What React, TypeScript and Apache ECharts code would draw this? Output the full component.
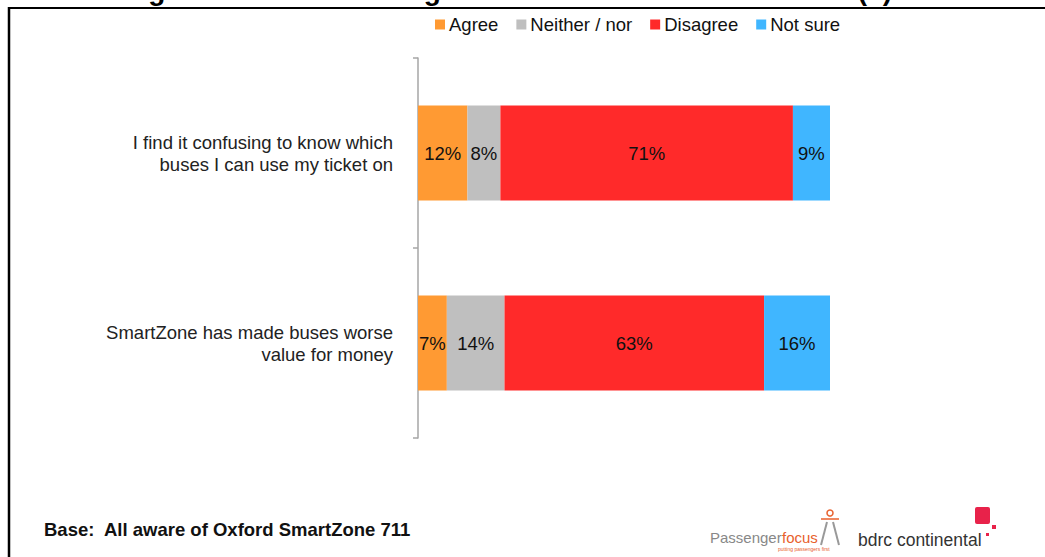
import React, { useEffect, useRef } from "react";
import * as echarts from "echarts";

const categories = [
  "I find it confusing to know which\nbuses I can use my ticket on",
  "SmartZone has made buses worse\nvalue for money",
];
const seriesNames = ["Agree", "Neither / nor", "Disagree", "Not sure"];
const agree = [12, 7];
const neither = [8, 14];
const disagree = [71, 63];
const notSure = [9, 16];
const colors = ["#FF9A33", "#BFBFBF", "#FF2A2A", "#40B6FF"];
const titleText = "Passenger attitudes to changes to the bus service in Oxford (3)";
const baseText = "Base:  All aware of Oxford SmartZone 711";

export default function App() {
  const ref = useRef<HTMLDivElement>(null);
  useEffect(() => {
    if (!ref.current) return;
    const chart = echarts.init(ref.current, null, { renderer: "svg" });
    const values = [agree, neither, disagree, notSure];
    const font = "Liberation Sans, Arial, sans-serif";
    chart.setOption({
      animation: false,
      textStyle: { fontFamily: font },
      legend: {
        top: 10,
        left: 430,
        itemWidth: 10,
        itemHeight: 10,
        itemGap: 18,
        icon: "rect",
        textStyle: { fontSize: 18.5, color: "#111", padding: [0, 0, 0, -1] },
        data: seriesNames,
      },
      grid: { left: 418, right: 215, top: 58, bottom: 119 },
      xAxis: { type: "value", min: 0, max: 100, show: false },
      yAxis: {
        type: "category",
        inverse: true,
        data: categories,
        axisLine: { lineStyle: { color: "#A6A6A6", width: 1.5 } },
        axisTick: { show: true, length: 5, lineStyle: { color: "#A6A6A6", width: 1.5 } },
        axisLabel: {
          fontSize: 18.5,
          color: "#222",
          margin: 25,
          lineHeight: 22,
          align: "right",
          padding: [3, 0, 0, 0],
        },
      },
      series: seriesNames.map((name, i) => ({
        name,
        type: "bar",
        stack: "total",
        barWidth: "50%",
        itemStyle: { color: colors[i] },
        label: {
          show: true,
          position: "inside",
          formatter: "{c}%",
          fontSize: 18.5,
          color: "#111",
        },
        data: values[i],
      })),
      graphic: [
        {
          type: "text",
          x: 892,
          y: -10,
          style: {
            text: titleText,
            font: "bold 28px Liberation Sans, Arial, sans-serif",
            fill: "#000",
            textAlign: "right",
            textVerticalAlign: "middle",
          },
        },
        { type: "line", shape: { x1: 8, y1: 8, x2: 1045, y2: 8 }, style: { stroke: "#000", lineWidth: 2 } },
        { type: "line", shape: { x1: 9, y1: 7, x2: 9, y2: 557 }, style: { stroke: "#000", lineWidth: 2.5 } },
        {
          type: "text",
          x: 44,
          y: 529,
          style: {
            text: baseText,
            font: "bold 18.5px Liberation Sans, Arial, sans-serif",
            fill: "#111",
            textVerticalAlign: "middle",
          },
        },
        {
          type: "text",
          x: 710,
          y: 537,
          style: {
            text: "Passenger",
            font: "15px Liberation Sans, Arial, sans-serif",
            fill: "#888",
            textVerticalAlign: "middle",
          },
        },
        {
          type: "text",
          x: 782,
          y: 537,
          style: {
            text: "focus",
            font: "15px Liberation Sans, Arial, sans-serif",
            fill: "#E8602C",
            textVerticalAlign: "middle",
          },
        },
        {
          type: "text",
          x: 778,
          y: 549,
          style: {
            text: "putting passengers first",
            font: "5px Liberation Sans, Arial, sans-serif",
            fill: "#E8602C",
            textVerticalAlign: "middle",
          },
        },
        { type: "circle", shape: { cx: 830, cy: 513, r: 3 }, style: { fill: "none", stroke: "#E8602C", lineWidth: 1.5 } },
        { type: "line", shape: { x1: 821, y1: 519, x2: 839, y2: 519 }, style: { stroke: "#E8602C", lineWidth: 1.5 } },
        { type: "line", shape: { x1: 827, y1: 522, x2: 821, y2: 545 }, style: { stroke: "#999", lineWidth: 2 } },
        { type: "line", shape: { x1: 833, y1: 522, x2: 839, y2: 545 }, style: { stroke: "#999", lineWidth: 2 } },
        {
          type: "text",
          x: 858,
          y: 540,
          style: {
            text: "bdrc continental",
            font: "17.5px Liberation Sans, Arial, sans-serif",
            fill: "#333",
            textVerticalAlign: "middle",
          },
        },
        { type: "rect", shape: { x: 975, y: 507, width: 15, height: 17, r: 2 }, style: { fill: "#E8224A" } },
        { type: "rect", shape: { x: 992, y: 525, width: 4, height: 4 }, style: { fill: "#E8224A" } },
        { type: "rect", shape: { x: 986, y: 533, width: 3, height: 3 }, style: { fill: "#E8224A" } },
      ],
    });
    return () => chart.dispose();
  }, []);
  return (
    <div
      ref={ref}
      style={{ position: "fixed", left: 0, top: 0, width: 1045, height: 557, background: "#fff" }}
    />
  );
}
